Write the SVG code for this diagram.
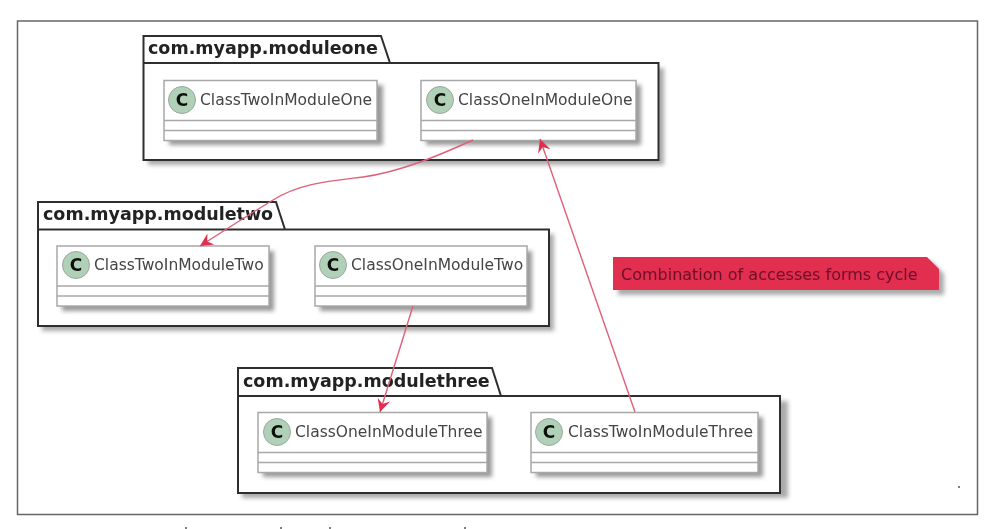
<svg xmlns="http://www.w3.org/2000/svg" width="994" height="529" viewBox="0 0 994 529">
<defs>
<filter id="sh" x="-10%" y="-15%" width="125%" height="140%"><feGaussianBlur stdDeviation="2.200"/></filter>
<filter id="soft" x="0" y="0" width="994" height="529" filterUnits="userSpaceOnUse"><feGaussianBlur stdDeviation="0.600"/></filter>
<marker id="arr" markerWidth="16" markerHeight="16" refX="13" refY="7.500" orient="auto" markerUnits="userSpaceOnUse"><path d="M0 1 L13 7.500 L0 14 L4.500 7.500 Z" fill="#e22d4f"/></marker>
</defs>
<style>
.pk{fill:#fff;stroke:#2e2e2e;stroke-width:2}
.pks{fill:#aaa;filter:url(#sh)}
.pt{font:bold 17.500px "DejaVu Sans",sans-serif;fill:#222}
.cl{fill:#fff;stroke:#a8a8a8;stroke-width:1.500}
.cls{fill:#999;filter:url(#sh)}
.ln{stroke:#a8a8a8;stroke-width:1.500}
.ct{font:15.500px "DejaVu Sans",sans-serif;fill:#444}
.ci{fill:#b0d0b8;stroke:#9aa89e;stroke-width:1}
.cc{font:bold 17px "DejaVu Sans",sans-serif;fill:#111;text-anchor:middle}
.e{fill:none;stroke:#e0607a;stroke-width:1.400}
</style>
<rect width="994" height="529" fill="#fff"/>
<g filter="url(#soft)">
<rect x="17.500" y="21" width="960" height="493.500" fill="#fff" stroke="#666" stroke-width="1.500"/>
<path d="M186 527V529M281 527V529M330 527V529M465 527V529M959 486V488" stroke="#555" stroke-width="1.500" fill="none"/>
<g id="pkg-one">
<rect class="pks" x="148" y="68" width="516" height="97"/>
<path class="pk" d="M143.500 63 V36 H381 L390 63 H658.500 V160 H143.500 Z M143.500 63 H390"/>
<text class="pt" x="148" y="54">com.myapp.moduleone</text>
</g>
<g id="pkg-two">
<rect class="pks" x="42" y="234" width="512" height="97"/>
<path class="pk" d="M38 229.500 V202 H276 L285 229.500 H549 V326 H38 Z M38 229.500 H285"/>
<text class="pt" x="43" y="220">com.myapp.moduletwo</text>
</g>
<g id="pkg-three">
<rect class="pks" x="242" y="401" width="546" height="97"/>
<path class="pk" d="M238 396 V368 H492 L501 396 H780 V493 H238 Z M238 396 H501"/>
<text class="pt" x="243" y="387">com.myapp.modulethree</text>
</g>
<g id="class-two-one">
<rect class="cls" x="169" y="85" width="214" height="60"/>
<rect class="cl" x="164" y="80.500" width="213" height="60"/>
<path class="ln" d="M164 120.500H377M164 130.500H377"/>
<circle class="ci" cx="182" cy="100" r="13.500"/><text class="cc" x="182" y="106">C</text>
<text class="ct" x="200" y="105">ClassTwoInModuleOne</text>
</g>
<g id="class-one-one">
<rect class="cls" x="426" y="85" width="215" height="60"/>
<rect class="cl" x="421" y="80.500" width="215" height="60"/>
<path class="ln" d="M421 120.500H636M421 130.500H636"/>
<circle class="ci" cx="440" cy="100" r="13.500"/><text class="cc" x="440" y="106">C</text>
<text class="ct" x="458" y="105">ClassOneInModuleOne</text>
</g>
<g id="class-two-two">
<rect class="cls" x="62" y="251" width="212" height="60"/>
<rect class="cl" x="57" y="246" width="212" height="60"/>
<path class="ln" d="M57 286H269M57 296H269"/>
<circle class="ci" cx="76" cy="265" r="13.500"/><text class="cc" x="76" y="271">C</text>
<text class="ct" x="94" y="270">ClassTwoInModuleTwo</text>
</g>
<g id="class-one-two">
<rect class="cls" x="320" y="251" width="212" height="60"/>
<rect class="cl" x="315" y="246" width="212" height="60"/>
<path class="ln" d="M315 286H527M315 296H527"/>
<circle class="ci" cx="333" cy="265" r="13.500"/><text class="cc" x="333" y="271">C</text>
<text class="ct" x="351" y="270">ClassOneInModuleTwo</text>
</g>
<g id="class-one-three">
<rect class="cls" x="263" y="417" width="229" height="60"/>
<rect class="cl" x="258" y="412.500" width="229" height="60"/>
<path class="ln" d="M258 452.500H487M258 462.500H487"/>
<circle class="ci" cx="277" cy="432" r="13.500"/><text class="cc" x="277" y="438">C</text>
<text class="ct" x="295" y="437">ClassOneInModuleThree</text>
</g>
<g id="class-two-three">
<rect class="cls" x="536" y="417" width="227" height="60"/>
<rect class="cl" x="531" y="412.500" width="227" height="60"/>
<path class="ln" d="M531 452.500H758M531 462.500H758"/>
<circle class="ci" cx="549" cy="432" r="13.500"/><text class="cc" x="549" y="438">C</text>
<text class="ct" x="568" y="437">ClassTwoInModuleThree</text>
</g>
<g id="note">
<path d="M618 262 H932 L944 274 V295 H618 Z" fill="#aaa" filter="url(#sh)"/>
<path d="M613 257 H927 L939 269 V290 H613 Z" fill="#e22d4f"/>
<text x="621" y="280" font-family="DejaVu Sans,sans-serif" font-size="16" fill="#6e0f28">Combination of accesses forms cycle</text>
</g>
<g id="connectors">
<path class="e" marker-end="url(#arr)" d="M473 140 C440 155 400 172 363 177 C330 181 300 183 273 200 C250 214 225 230 200 246"/>
<path class="e" marker-end="url(#arr)" d="M413 306 L380 412"/>
<path class="e" marker-end="url(#arr)" d="M635 412 L540 139"/>
</g>
</g>
</svg>
